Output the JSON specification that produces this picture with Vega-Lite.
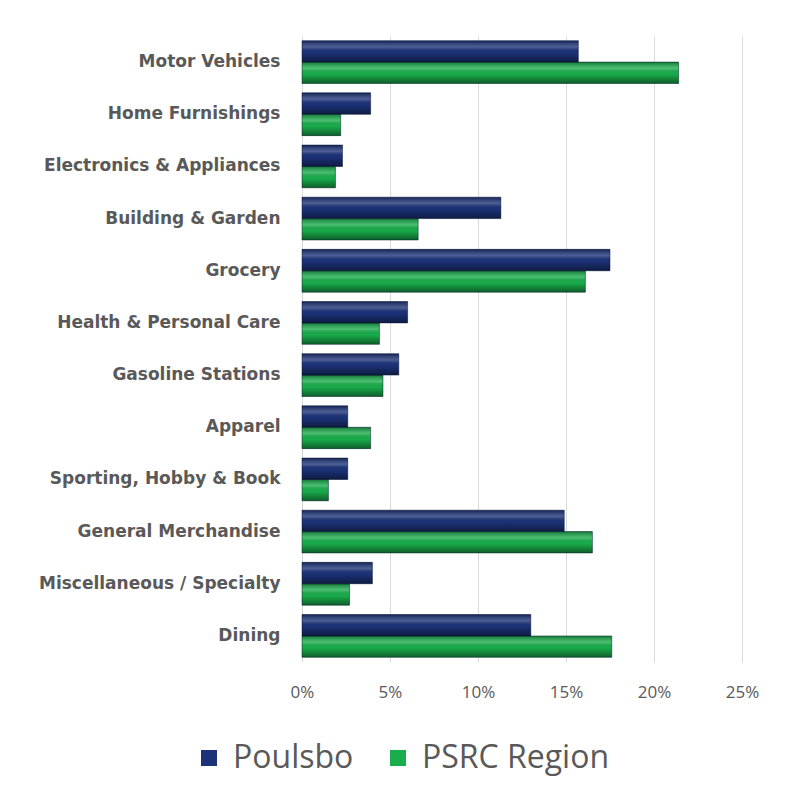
{
  "$schema": "https://vega.github.io/schema/vega-lite/v6.json",
  "width": 440,
  "height": 626,
  "autosize": "none",
  "padding": {"left": 302, "top": 36, "right": 43, "bottom": 136},
  "background": "white",
  "config": {"view": {"stroke": null}, "font": "Open Sans"},
  "data": {
    "values": [
      {"category": "Motor Vehicles", "series": "Poulsbo", "share": 0.157},
      {"category": "Motor Vehicles", "series": "PSRC Region", "share": 0.214},
      {"category": "Home Furnishings", "series": "Poulsbo", "share": 0.039},
      {"category": "Home Furnishings", "series": "PSRC Region", "share": 0.022},
      {"category": "Electronics & Appliances", "series": "Poulsbo", "share": 0.023},
      {"category": "Electronics & Appliances", "series": "PSRC Region", "share": 0.019},
      {"category": "Building & Garden", "series": "Poulsbo", "share": 0.113},
      {"category": "Building & Garden", "series": "PSRC Region", "share": 0.066},
      {"category": "Grocery", "series": "Poulsbo", "share": 0.175},
      {"category": "Grocery", "series": "PSRC Region", "share": 0.161},
      {"category": "Health & Personal Care", "series": "Poulsbo", "share": 0.060},
      {"category": "Health & Personal Care", "series": "PSRC Region", "share": 0.044},
      {"category": "Gasoline Stations", "series": "Poulsbo", "share": 0.055},
      {"category": "Gasoline Stations", "series": "PSRC Region", "share": 0.046},
      {"category": "Apparel", "series": "Poulsbo", "share": 0.026},
      {"category": "Apparel", "series": "PSRC Region", "share": 0.039},
      {"category": "Sporting, Hobby & Book", "series": "Poulsbo", "share": 0.026},
      {"category": "Sporting, Hobby & Book", "series": "PSRC Region", "share": 0.015},
      {"category": "General Merchandise", "series": "Poulsbo", "share": 0.149},
      {"category": "General Merchandise", "series": "PSRC Region", "share": 0.165},
      {"category": "Miscellaneous / Specialty", "series": "Poulsbo", "share": 0.040},
      {"category": "Miscellaneous / Specialty", "series": "PSRC Region", "share": 0.027},
      {"category": "Dining", "series": "Poulsbo", "share": 0.130},
      {"category": "Dining", "series": "PSRC Region", "share": 0.176}
    ]
  },
  "encoding": {
    "y": {
      "field": "category",
      "type": "nominal",
      "sort": null,
      "scale": {"paddingInner": 0.18, "paddingOuter": 0.09},
      "axis": {
        "title": null,
        "domain": false,
        "ticks": false,
        "labelFont": "DejaVu Sans",
        "labelFontSize": 17,
        "labelFontWeight": "bold",
        "labelColor": "#595959",
        "labelPadding": 22,
        "labelLimit": 300
      }
    },
    "yOffset": {"field": "series", "type": "nominal", "sort": ["Poulsbo", "PSRC Region"]},
    "x": {
      "field": "share",
      "type": "quantitative",
      "scale": {"domain": [0, 0.25], "nice": false},
      "axis": {
        "title": null,
        "format": ".0%",
        "values": [0, 0.05, 0.1, 0.15, 0.2, 0.25],
        "domain": false,
        "ticks": false,
        "grid": true,
        "gridColor": "#d9d9d9",
        "gridWidth": 1,
        "labelFlush": false,
        "labelFontSize": 17,
        "labelColor": "#595959",
        "labelPadding": 22
      }
    }
  },
  "layer": [
    {
      "mark": {"type": "bar"},
      "encoding": {
        "color": {
          "field": "series",
          "type": "nominal",
          "sort": ["Poulsbo", "PSRC Region"],
          "scale": {"domain": ["Poulsbo", "PSRC Region"], "range": ["#1b3278", "#19ad4b"]},
          "legend": {
            "title": null,
            "orient": "none",
            "direction": "horizontal",
            "legendX": -109,
            "legendY": 706,
            "symbolType": "square",
            "symbolSize": 256,
            "symbolStrokeWidth": 0,
            "labelFontSize": 32,
            "labelColor": "#595959",
            "labelOffset": 8,
            "columnPadding": 28,
            "labelLimit": 400
          }
        }
      }
    },
    {
      "mark": {
        "type": "bar",
        "stroke": "#061230",
        "strokeOpacity": 0.6,
        "strokeWidth": 0.8,
        "color": {
          "gradient": "linear", "x1": 0, "y1": 0, "x2": 0, "y2": 1,
          "stops": [
            {"offset": 0, "color": "rgba(0,0,0,0.3)"},
            {"offset": 0.3, "color": "rgba(255,255,255,0.22)"},
            {"offset": 0.55, "color": "rgba(0,0,0,0)"},
            {"offset": 1, "color": "rgba(0,0,0,0.45)"}
          ]
        }
      }
    }
  ]
}
